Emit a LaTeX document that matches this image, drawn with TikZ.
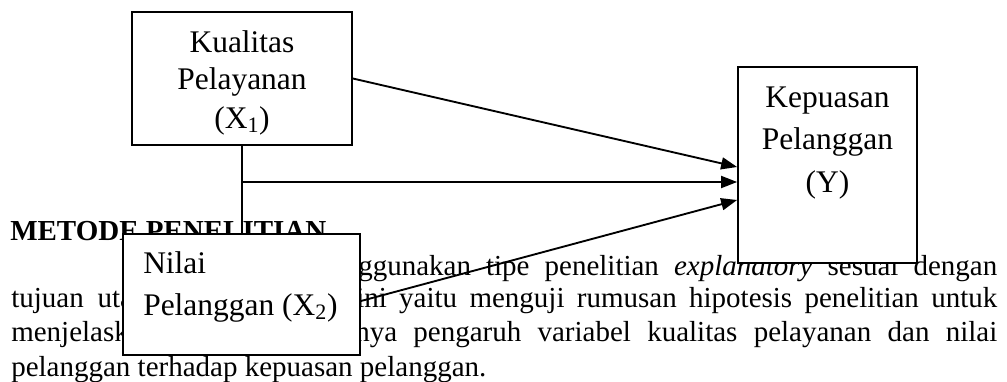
\documentclass[tikz,border=0pt]{standalone}
\usepackage{fontspec}
\setmainfont{Liberation Serif}
\usetikzlibrary{arrows.meta}
\newcommand\parafont{\fontsize{21.75}{26}\selectfont}
\newcommand\boxfont{\fontsize{23.6}{28}\selectfont}
\begin{document}
\begin{tikzpicture}[x=0.75pt,y=-0.75pt,
  txt/.style={anchor=base west, inner sep=0pt, font=\parafont},
  boxline/.style={anchor=base, inner sep=0pt, font=\boxfont},
  boxlineL/.style={anchor=base west, inner sep=0pt, font=\boxfont},
  varbox/.style={draw=black, line width=1.3pt, fill=white, inner sep=0pt},
  conn/.style={draw=black, line width=1.4pt},
  arr/.style={conn, -{Triangle[length=12pt,width=9pt]}}]
\useasboundingbox (0,0) rectangle (1007,382);
\fill[white] (0,0) rectangle (1007,382);

% running text of the page
\node[txt, font=\parafont\bfseries] (head) at (10,240) {METODE PENELITIAN};
\node[txt] (p1) at (358,275) {\makebox[479.25pt][s]{ggunakan tipe penelitian \textit{explanatory} sesuai dengan}};
\node[txt] (p2a) at (11,307) {tujuan\hspace{5pt} uta};
\node[txt] (p2b) at (356,307) {\makebox[480.75pt][s]{ini yaitu menguji rumusan hipotesis penelitian untuk}};
\node[txt] (p3a) at (11,341) {menjelask};
\node[txt] (p3b) at (355,341) {\makebox[481.5pt][s]{nya pengaruh variabel kualitas pelayanan dan nilai}};
\node[txt] (p4) at (11,376) {pelanggan terhadap kepuasan pelanggan.};

% variable boxes
\node[varbox, minimum width=165pt, minimum height=99.75pt] (kual) at (242,78.5) {};
\node[varbox, minimum width=134.25pt, minimum height=147pt] (kep) at (827.5,165) {};
\node[varbox, minimum width=177.75pt, minimum height=90.75pt] (nilai) at (241.5,294.5) {};

\node[boxline] (kual1) at (242,52) {Kualitas};
\node[boxline] (kual2) at (242,89) {Pelayanan};
\node[boxline] (kual3) at (242,128) {(X\textsubscript{1})};

\node[boxline] (kep1) at (827.5,107) {Kepuasan};
\node[boxline] (kep2) at (827.5,149) {Pelanggan};
\node[boxline] (kep3) at (827.5,192) {(Y)};

\node[boxlineL] (nil1) at (143,273) {Nilai};
\node[boxlineL] (nil2) at (143,315) {Pelanggan (X\textsubscript{2})};

% connectors
\coordinate (j) at (kual.south |- 0,182);
\draw[conn] (kual.south) -- (kual.south |- nilai.north);
\draw[arr] (kual.east) -- ([yshift=-1.5pt]kep.west);
\draw[arr] (j) -- (j -| kep.west);
\draw[arr] ([yshift=-4.9pt]nilai.east) -- ([yshift=-26.25pt]kep.west);
\end{tikzpicture}
\end{document}
